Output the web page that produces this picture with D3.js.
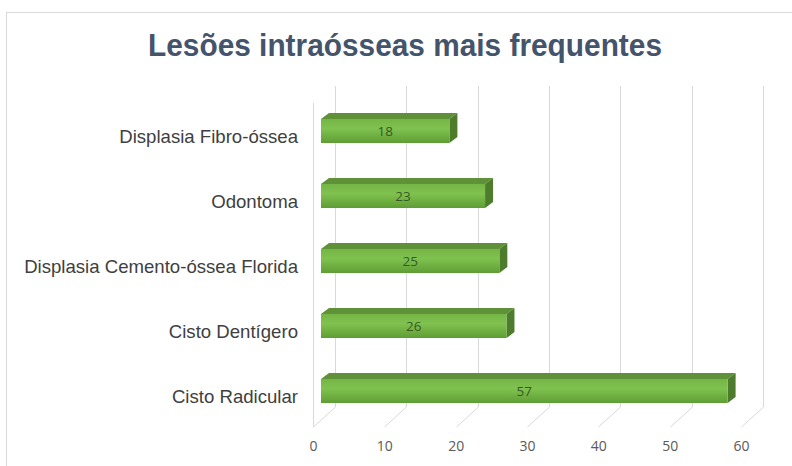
<!DOCTYPE html>
<html>
<head>
<meta charset="utf-8">
<script src="https://cdn.jsdelivr.net/npm/d3@7"></script>
<style>
  body { margin: 0; background: #fff; }
  .cat-label { font-family: "Liberation Sans", Arial, sans-serif; font-size: 18.6px; fill: #404040; }
  .tick text { font-family: "Open Sans", sans-serif; font-size: 14px; fill: #595959; }
  .val-label { font-family: "Open Sans", sans-serif; font-size: 13.5px; fill: #365a22; }
</style>
</head>
<body>
<div id="chart"></div>
<script>
var categories = ["Displasia Fibro-óssea", "Odontoma", "Displasia Cemento-óssea Florida", "Cisto Dentígero", "Cisto Radicular"]
var values = [18, 23, 25, 26, 57]
var ticks = [0, 10, 20, 30, 40, 50, 60]
var title = "Lesões intraósseas mais frequentes"

const width = 792, height = 466;
const svg = d3.select("#chart").append("svg")
  .attr("width", width)
  .attr("height", height);

// outer chart border
svg.append("rect")
  .attr("x", 6.5).attr("y", 12.5)
  .attr("width", 800).attr("height", 500)
  .attr("fill", "#fff")
  .attr("stroke", "#d9d9d9");

svg.append("text")
  .attr("x", 405).attr("y", 56)
  .attr("text-anchor", "middle")
  .attr("textLength", 514)
  .attr("lengthAdjust", "spacingAndGlyphs")
  .style("font-family", "'Liberation Sans', Arial, sans-serif")
  .style("font-weight", "bold")
  .style("font-size", "31px")
  .style("fill", "#44546a")
  .text(title);

// 3d frame: front plane, back plane
const frontX = 313, backX = 335;
const frontBottom = 427, backBottom = 407, backTop = 86, frontTop = 103;

const x = d3.scaleLinear().domain([0, 60]).range([0, 428]);
const y = d3.scaleBand().domain(categories).range([98.5, 423.5])
  .paddingInner(0.63).paddingOuter(0.315);

const grid = svg.append("g").attr("stroke", "#d9d9d9").attr("stroke-width", 1).attr("fill", "none");
// left side wall edge
grid.append("line")
  .attr("x1", frontX + 0.5).attr("x2", frontX + 0.5)
  .attr("y1", frontTop).attr("y2", frontBottom);
ticks.forEach(function (t) {
  const xb = Math.round(backX + x(t)) + 0.5;
  const xf = Math.round(frontX + x(t)) + 0.5;
  grid.append("line").attr("x1", xb).attr("x2", xb).attr("y1", backTop).attr("y2", backBottom);
  grid.append("line").attr("x1", xb).attr("x2", xf).attr("y1", backBottom).attr("y2", frontBottom);
});

// bottom axis labels
const axis = d3.axisBottom(x).tickValues(ticks).tickSize(0).tickPadding(0);
const axisG = svg.append("g")
  .attr("transform", `translate(${frontX},441)`)
  .call(axis);
axisG.select(".domain").remove();

// gradient for front faces
const defs = svg.append("defs");
const grad = defs.append("linearGradient")
  .attr("id", "barFront")
  .attr("x1", 0).attr("y1", 0).attr("x2", 0).attr("y2", 1);
grad.append("stop").attr("offset", "0%").attr("stop-color", "#74b545");
grad.append("stop").attr("offset", "40%").attr("stop-color", "#80c250");
grad.append("stop").attr("offset", "100%").attr("stop-color", "#5e9d34");

const barX0 = 321, depthX = 8, depthY = -6;

const bars = svg.append("g").selectAll("g")
  .data(values)
  .join("g");

bars.each(function (v, i) {
  const g = d3.select(this);
  const y0 = y(categories[i]);
  const h = y.bandwidth();
  const x1 = barX0 + x(v);
  // top face
  g.append("polygon")
    .attr("points", [[barX0, y0], [barX0 + depthX, y0 + depthY], [x1 + depthX, y0 + depthY], [x1, y0]].join(" "))
    .attr("fill", "#5f9139");
  // side face
  g.append("polygon")
    .attr("points", [[x1, y0], [x1 + depthX, y0 + depthY], [x1 + depthX, y0 + h + depthY], [x1, y0 + h]].join(" "))
    .attr("fill", "#4c7c2c");
  // front face
  g.append("rect")
    .attr("x", barX0).attr("y", y0)
    .attr("width", x(v)).attr("height", h)
    .attr("fill", "url(#barFront)");
  g.append("text")
    .attr("class", "val-label")
    .attr("x", barX0 + x(v) / 2)
    .attr("y", y0 + h / 2)
    .attr("dy", "0.35em")
    .attr("text-anchor", "middle")
    .text(v);
});

// category labels
svg.append("g").selectAll("text")
  .data(categories)
  .join("text")
  .attr("class", "cat-label")
  .attr("x", 298)
  .attr("y", d => y(d) + y.bandwidth() / 2 + 5)
  .attr("dy", "0.35em")
  .attr("text-anchor", "end")
  .text(d => d);
</script>
</body>
</html>
